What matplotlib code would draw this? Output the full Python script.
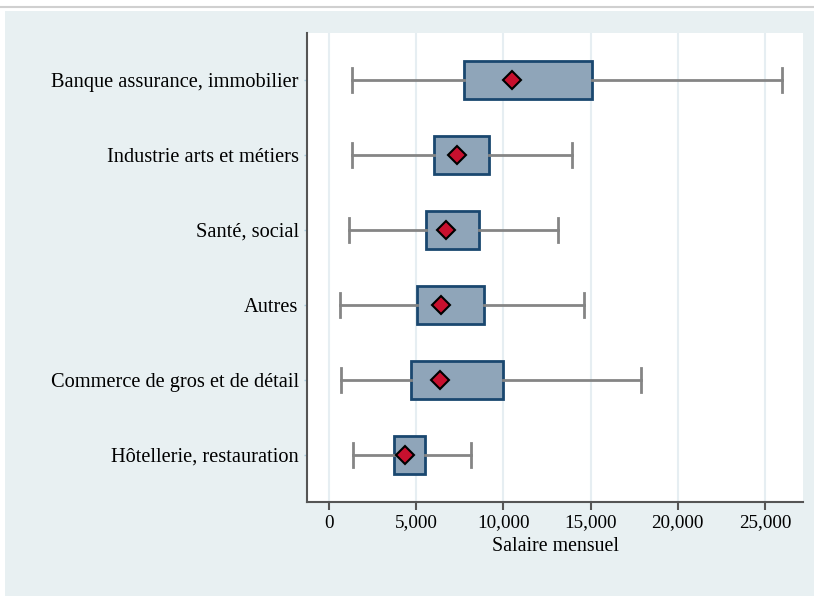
import matplotlib
matplotlib.use("Agg")
import matplotlib.pyplot as plt
from matplotlib.patches import Rectangle
from matplotlib.lines import Line2D

categories = ["Banque assurance, immobilier", "Industrie arts et métiers", "Santé, social",
              "Autres", "Commerce de gros et de détail", "Hôtellerie, restauration"]
whislo = [1340, 1340, 1170, 650, 710, 1400]
q1 = [7760, 6000, 5540, 5045, 4680, 3730]
q3 = [15100, 9160, 8600, 8890, 9960, 5485]
whishi = [25975, 13915, 13150, 14600, 17890, 8160]
means = [10475, 7320, 6690, 6440, 6365, 4340]
xticks = [0, 5000, 10000, 15000, 20000, 25000]
xticklabels = ["0", "5,000", "10,000", "15,000", "20,000", "25,000"]

plt.rcParams['font.family'] = ['Liberation Serif', 'DejaVu Serif']

W, H = 814, 596
fig = plt.figure(figsize=(W / 100, H / 100), dpi=100, facecolor='white')
fig.patches.append(Rectangle((5 / W, 0), 1 - 5 / W, (H - 11) / H, transform=fig.transFigure,
                             facecolor='#e8f0f2', edgecolor='none', zorder=-10))
fig.lines.append(Line2D([0, 1], [(H - 7) / H] * 2, transform=fig.transFigure,
                        color='#d0d0d0', lw=1.5, zorder=-10))

ax = fig.add_axes([307 / W, (H - 502) / H, (803 - 307) / W, (502 - 33) / H])
ax.set_facecolor('white')

n = len(categories)
stats = []
for i in range(n):
    stats.append(dict(whislo=whislo[i], q1=q1[i], med=(q1[i] + q3[i]) / 2, q3=q3[i],
                      whishi=whishi[i], mean=means[i], fliers=[]))
positions = list(range(n))

ax.bxp(stats, positions=positions, vert=False, widths=0.5, patch_artist=True,
       showmeans=True, showfliers=False,
       boxprops=dict(facecolor='#8fa5b9', edgecolor='#1a476f', linewidth=2),
       whiskerprops=dict(color='#858585', linewidth=2),
       capprops=dict(color='#858585', linewidth=2),
       capwidths=0.33,
       medianprops=dict(visible=False),
       meanprops=dict(marker='D', markerfacecolor='#c8102e', markeredgecolor='black',
                      markersize=9, markeredgewidth=1.5))

ax.set_ylim(n - 1 + 0.627, -0.627)
ax.set_xlim(-1261, 27180)
ax.set_yticks(positions)
ax.set_yticklabels(categories, fontsize=14.7)
ax.set_xticks(xticks)
ax.set_xticklabels(xticklabels, fontsize=13.8)
ax.set_xlabel("Salaire mensuel", fontsize=14.3, labelpad=4)

ax.grid(axis='x', color='#e6eef2', linewidth=1.5)
ax.set_axisbelow(True)
for s in ['top', 'right']:
    ax.spines[s].set_visible(False)
for s in ['left', 'bottom']:
    ax.spines[s].set_color('#555555')
    ax.spines[s].set_linewidth(1.5)
ax.tick_params(axis='x', length=6, width=1.5, color='#555555', pad=3)
ax.tick_params(axis='y', length=2, width=1, color='#a9cde0', pad=4)

fig.savefig("out.png", dpi=100, facecolor='white')
